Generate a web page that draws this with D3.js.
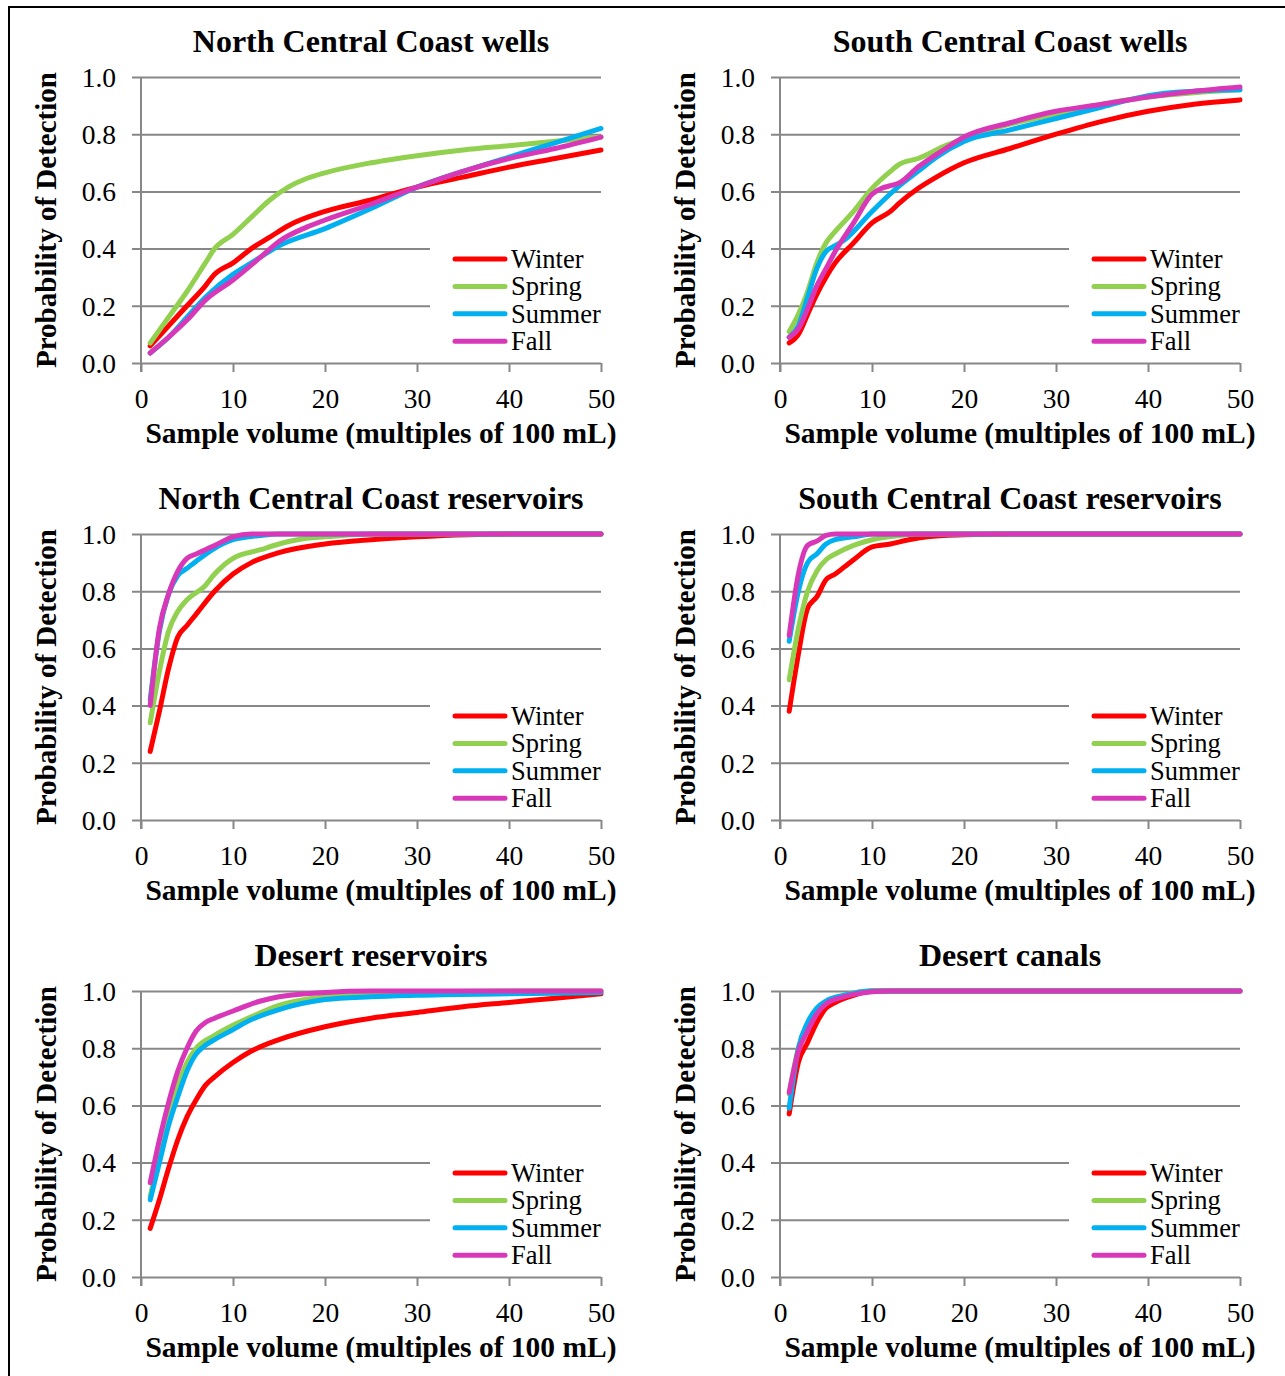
<!DOCTYPE html>
<html>
<head>
<meta charset="utf-8">
<script src="https://cdn.jsdelivr.net/npm/d3@7"></script>
<style>
  body { margin: 0; background: #fff; }
  svg { display: block; }
  text { font-family: "Liberation Serif", "Times New Roman", serif; fill: #000; }
</style>
</head>
<body>
<div id="chart"></div>
<script>
// seasons, colours used by every panel
var seasons = ["Winter", "Spring", "Summer", "Fall"];
var seasonColors = ["#ff0000", "#92d050", "#00b0f0", "#d838b8"];
var xTicks = [0, 10, 20, 30, 40, 50];
var yTicks = [0, 0.2, 0.4, 0.6, 0.8, 1.0];
var xLabel = "Sample volume (multiples of 100 mL)";
var yLabel = "Probability of Detection";

var panelTitles = ["North Central Coast wells", "South Central Coast wells",
  "North Central Coast reservoirs", "South Central Coast reservoirs",
  "Desert reservoirs", "Desert canals"];

// [sample volume, probability]
var ncWellsWinter = [[1,0.06],[3,0.13],[5,0.2],[7,0.27],[8,0.31],[10,0.35],[12,0.4],[14,0.44],[16,0.48],[20,0.53],[25,0.57],[30,0.615],[35,0.65],[40,0.685],[45,0.715],[50,0.745]];
var ncWellsSpring = [[1,0.07],[3,0.16],[5,0.25],[7,0.35],[8,0.4],[10,0.45],[12,0.51],[14,0.57],[16,0.615],[18,0.645],[20,0.665],[25,0.7],[30,0.725],[35,0.745],[40,0.76],[45,0.775],[50,0.79]];
var ncWellsSummer = [[1,0.035],[3,0.09],[5,0.16],[7,0.23],[10,0.31],[12,0.35],[15,0.41],[20,0.47],[25,0.54],[30,0.615],[35,0.67],[40,0.72],[45,0.77],[50,0.82]];
var ncWellsFall = [[1,0.035],[3,0.09],[5,0.15],[7,0.22],[10,0.29],[13,0.37],[15,0.425],[18,0.475],[20,0.5],[25,0.555],[30,0.615],[35,0.67],[40,0.715],[45,0.75],[50,0.79]];

var scWellsWinter = [[1,0.07],[2,0.1],[3,0.17],[4,0.24],[5,0.3],[6,0.35],[8,0.42],[10,0.49],[12,0.53],[13,0.56],[15,0.61],[17,0.65],[20,0.7],[25,0.75],[30,0.8],[35,0.845],[40,0.88],[45,0.905],[50,0.92]];
var scWellsSpring = [[1,0.11],[2,0.17],[3,0.25],[4,0.35],[5,0.42],[6,0.46],[8,0.53],[10,0.61],[12,0.67],[13,0.695],[15,0.715],[18,0.76],[20,0.785],[25,0.835],[30,0.87],[35,0.905],[40,0.93],[45,0.945],[50,0.955]];
var scWellsSummer = [[1,0.09],[2,0.13],[3,0.23],[4,0.33],[5,0.39],[6,0.41],[7,0.43],[10,0.53],[13,0.62],[15,0.67],[17,0.72],[20,0.775],[25,0.815],[30,0.855],[35,0.895],[40,0.935],[45,0.95],[50,0.955]];
var scWellsFall = [[1,0.09],[2,0.12],[3,0.19],[4,0.27],[5,0.33],[6,0.39],[8,0.49],[10,0.59],[11,0.61],[12,0.62],[13,0.63],[15,0.685],[18,0.75],[20,0.79],[25,0.84],[30,0.88],[35,0.905],[40,0.93],[45,0.95],[50,0.965]];

var ncResWinter = [[1,0.24],[2,0.38],[3,0.53],[4,0.64],[5,0.68],[6,0.72],[8,0.8],[10,0.86],[12,0.9],[15,0.935],[20,0.965],[25,0.98],[30,0.99],[40,1],[50,1]];
var ncResSpring = [[1,0.34],[2,0.52],[3,0.66],[4,0.73],[5,0.77],[7,0.82],[8,0.86],[10,0.915],[13,0.945],[15,0.965],[18,0.985],[20,0.99],[25,1],[50,1]];
var ncResSummer = [[1,0.42],[2,0.66],[3,0.79],[4,0.855],[5,0.88],[6,0.905],[8,0.95],[10,0.98],[13,0.995],[15,1],[50,1]];
var ncResFall = [[1,0.4],[2,0.67],[3,0.79],[4,0.87],[5,0.915],[6,0.93],[7,0.945],[8,0.96],[10,0.99],[12,1],[50,1]];

var scResWinter = [[1,0.38],[2,0.58],[3,0.74],[4,0.78],[5,0.84],[6,0.86],[7,0.885],[8,0.91],[10,0.955],[12,0.965],[14,0.98],[16,0.99],[20,0.997],[25,1],[50,1]];
var scResSpring = [[1,0.49],[2,0.67],[3,0.8],[4,0.87],[5,0.91],[6,0.93],[8,0.96],[10,0.98],[13,0.995],[15,1],[50,1]];
var scResSummer = [[1,0.625],[2,0.8],[3,0.9],[4,0.93],[5,0.965],[6,0.98],[8,0.99],[10,1],[50,1]];
var scResFall = [[1,0.645],[2,0.86],[3,0.96],[4,0.975],[5,0.995],[6,1],[50,1]];

var desResWinter = [[1,0.17],[2,0.27],[3,0.38],[4,0.48],[5,0.56],[6,0.62],[7,0.67],[8,0.7],[10,0.75],[12,0.79],[15,0.83],[20,0.875],[25,0.905],[30,0.925],[35,0.945],[40,0.96],[45,0.975],[50,0.99]];
var desResSpring = [[1,0.28],[2,0.43],[3,0.57],[4,0.67],[5,0.75],[6,0.8],[8,0.845],[10,0.88],[12,0.91],[15,0.95],[20,0.98],[25,0.99],[30,0.995],[40,1],[50,1]];
var desResSummer = [[1,0.27],[2,0.4],[3,0.53],[4,0.63],[5,0.72],[6,0.78],[7,0.81],[8,0.83],[10,0.865],[12,0.9],[15,0.935],[20,0.97],[25,0.98],[30,0.985],[40,0.99],[50,0.995]];
var desResFall = [[1,0.33],[2,0.48],[3,0.61],[4,0.72],[5,0.8],[6,0.86],[7,0.89],[8,0.905],[10,0.93],[13,0.965],[15,0.98],[20,0.995],[25,1],[50,1]];

var desCanWinter = [[1,0.57],[2,0.75],[3,0.82],[4,0.89],[5,0.94],[6,0.96],[8,0.985],[10,1],[50,1]];
var desCanSpring = [[1,0.64],[2,0.8],[3,0.87],[4,0.93],[5,0.96],[7,0.985],[10,1],[50,1]];
var desCanSummer = [[1,0.59],[2,0.8],[3,0.89],[4,0.94],[5,0.965],[7,0.985],[10,1],[50,1]];
var desCanFall = [[1,0.645],[2,0.79],[3,0.86],[4,0.92],[5,0.955],[7,0.98],[10,0.997],[12,1],[50,1]];

var panelSeries = [
  [ncWellsWinter, ncWellsSpring, ncWellsSummer, ncWellsFall],
  [scWellsWinter, scWellsSpring, scWellsSummer, scWellsFall],
  [ncResWinter, ncResSpring, ncResSummer, ncResFall],
  [scResWinter, scResSpring, scResSummer, scResFall],
  [desResWinter, desResSpring, desResSummer, desResFall],
  [desCanWinter, desCanSpring, desCanSummer, desCanFall]
];

var W = 1285, H = 1376;
var plotW = 460, plotH = 286;
var colX = [141, 780];
var rowY = [77, 534, 991];
var gray = "#878787";

var svg = d3.select("#chart").append("svg")
  .attr("width", W)
  .attr("height", H);

svg.append("rect").attr("width", W).attr("height", H).attr("fill", "#fff");

// outer frame (only top and left edges are inside the picture)
svg.append("path")
  .attr("d", "M9," + H + " V7 H" + W)
  .attr("fill", "none")
  .attr("stroke", "#000")
  .attr("stroke-width", 2);

panelTitles.forEach(function(title, i) {
  var px = colX[i % 2], py = rowY[Math.floor(i / 2)];
  var g = svg.append("g").attr("transform", "translate(" + px + "," + py + ")");

  var x = d3.scaleLinear().domain([0, 50]).range([0, plotW]);
  var y = d3.scaleLinear().domain([0, 1]).range([plotH, 0]);

  // horizontal gridlines + y ticks
  var yAxis = g.append("g")
    .call(d3.axisLeft(y).tickValues(yTicks).tickSize(-plotW).tickFormat(""));
  yAxis.select(".domain").remove();
  yAxis.selectAll(".tick line")
    .attr("x1", -9)
    .attr("stroke", gray).attr("stroke-width", 2);

  yAxis.selectAll(".tick").append("text")
    .attr("x", -25)
    .attr("dy", "0.34em")
    .attr("text-anchor", "end")
    .style("font-size", "27.5px")
    .text(function(d) { return d3.format(".1f")(d); });

  // vertical axis line
  g.append("line")
    .attr("x1", 0).attr("x2", 0)
    .attr("y1", 0).attr("y2", plotH + 9)
    .attr("stroke", gray).attr("stroke-width", 2);

  // x axis
  var xAxis = g.append("g")
    .attr("transform", "translate(0," + plotH + ")")
    .call(d3.axisBottom(x).tickValues(xTicks).tickSize(9).tickFormat(""));
  xAxis.select(".domain").remove();
  xAxis.selectAll(".tick line").attr("stroke", gray).attr("stroke-width", 2);
  xAxis.selectAll(".tick").append("text")
    .attr("y", 45)
    .attr("text-anchor", "middle")
    .style("font-size", "27.5px")
    .text(function(d) { return d; });

  // legend box hides the lower gridlines
  var lx = 289;
  g.append("rect")
    .attr("x", lx).attr("y", 160)
    .attr("width", plotW - lx + 2).attr("height", 124)
    .attr("fill", "#fff");

  var line = d3.line()
    .x(function(d) { return x(d[0]); })
    .y(function(d) { return y(d[1]); })
    .curve(d3.curveMonotoneX);

  panelSeries[i].forEach(function(ser, k) {
    g.append("path")
      .datum(ser)
      .attr("d", line)
      .attr("fill", "none")
      .attr("stroke", seasonColors[k])
      .attr("stroke-width", 5)
      .attr("stroke-linecap", "round")
      .attr("stroke-linejoin", "round");
  });

  // legend
  seasons.forEach(function(s, k) {
    var ly = 182 + k * 27.4;
    g.append("line")
      .attr("x1", 314).attr("x2", 364)
      .attr("y1", ly).attr("y2", ly)
      .attr("stroke", seasonColors[k])
      .attr("stroke-width", 5)
      .attr("stroke-linecap", "round");
    g.append("text")
      .attr("x", 370).attr("y", ly + 9)
      .style("font-size", "26.5px")
      .text(s);
  });

  // titles
  g.append("text")
    .attr("x", plotW / 2).attr("y", -25)
    .attr("text-anchor", "middle")
    .style("font-size", "32px").style("font-weight", "bold")
    .text(title);

  g.append("text")
    .attr("x", plotW / 2 + 10).attr("y", plotH + 80)
    .attr("text-anchor", "middle")
    .style("font-size", "29.5px").style("font-weight", "bold")
    .text(xLabel);

  g.append("text")
    .attr("transform", "translate(-85," + (plotH / 2) + ") rotate(-90)")
    .attr("text-anchor", "middle")
    .style("font-size", "29px").style("font-weight", "bold")
    .text(yLabel);
});
</script>
</body>
</html>
